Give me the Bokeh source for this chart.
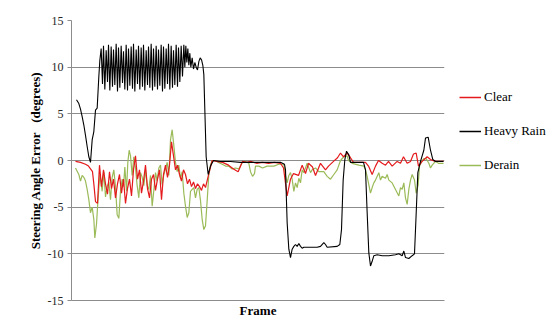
from bokeh.plotting import figure
from bokeh.layouts import row
from bokeh.models import Range1d, FixedTicker, Legend, LegendItem
from bokeh.embed import file_html
from bokeh.resources import INLINE

# ---- data (frame index, steering angle error in degrees) ----
clear_frames = [12, 27, 42, 51, 57, 63, 67, 72, 78, 84, 90, 96, 102, 108, 114, 120, 126, 132, 138, 144,
                150, 156, 162, 168, 174, 180, 186, 192, 198, 204, 210, 216, 222, 228, 234, 240, 246, 252, 258, 264,
                270, 276, 282, 288, 294, 300, 306, 312, 318, 324, 330, 336, 342, 348, 354, 360, 366, 372, 378, 384,
                390, 396, 402, 410, 422, 435, 453, 471, 486, 500, 513, 525, 537, 555, 573, 591, 609, 627, 636, 647,
                657, 666, 681, 692, 702, 711, 723, 732, 747, 762, 771, 786, 798, 807, 816, 827, 837, 846, 867, 882,
                891, 902, 912, 921, 932, 942, 951, 962, 977, 987, 996, 1007, 1017, 1026, 1034, 1041, 1052, 1067, 1077, 1092,
                1116]
clear_vals = [-0.1, -0.2, -0.4, -0.6, -0.9, -1.2, -2.5, -4.4, -4.6, -0.5, -2.8, -1.0, -2.5, -3.6, -1.2, -3.0, -2.0, -4.0, -2.5, -1.5,
              -3.5, -2.0, -4.6, -3.0, -2.0, -3.8, -1.0, 0.5, -2.0, -1.0, -3.5, -2.2, -0.5, -3.0, -4.0, -2.0, -1.5, -3.2, -2.0, -1.0,
              -4.2, -1.5, -0.5, -1.8, -0.5, 2.0, 0.5, -1.0, -0.5, -1.5, -2.2, -1.0, -1.5, -2.5, -2.0, -2.8, -2.3, -3.0, -2.5, -2.8,
              -3.2, -2.5, -2.9, -1.7, 0.0, -0.1, -0.2, -0.5, -0.9, -1.2, -0.1, -0.2, -0.1, -0.3, -0.2, -0.3, -0.2, -0.3, -0.8, -3.8,
              -2.0, -1.4, -1.6, -0.5, -1.4, -0.3, -0.7, -1.6, -0.3, -1.0, -0.6, -0.1, 0.3, 0.8, 0.4, 0.8, 0.3, -0.2, -0.2, -0.2,
              -0.6, -1.5, -0.6, 0.0, -0.3, -0.5, -0.1, -0.6, -0.1, -0.3, 0.4, -0.3, -0.1, 0.7, 0.8, -0.6, -0.1, 0.4, 0.1, -0.1,
              -0.1]

rain_frames = [15, 22, 27, 32, 37, 42, 47, 52, 57, 62, 67, 72, 77, 82, 85,
               89, 93, 96, 100, 104, 108, 111, 115, 119, 123, 126, 130, 134, 138, 141, 145, 149, 153, 156, 160,
               164, 168, 171, 175, 179, 183, 186, 190, 194, 198, 201, 205, 209, 213, 216, 220, 224, 228, 231, 235,
               239, 243, 246, 250, 254, 258, 261, 265, 269, 273, 276, 280, 284, 288, 291, 295, 299, 303, 306, 310,
               314, 318, 321, 325, 329, 333,
               337, 340, 343, 346, 349, 352, 355, 358, 362, 366, 370, 374, 378, 382, 386, 390, 394, 397, 400, 404,
               410, 417, 426, 447, 477, 507, 537, 567, 597, 627, 639, 642, 647, 652, 657, 662, 667, 672, 677, 682,
               687, 692, 697, 707, 737, 747, 757, 762, 767, 797, 805, 810, 815, 820, 825, 832, 837, 852, 876, 882,
               887, 892, 897, 902, 907, 917, 932, 952, 972, 982, 992, 997, 1002, 1012, 1022, 1029, 1034, 1039, 1047, 1057,
               1062, 1070, 1077, 1084, 1092, 1116]
rain_vals = [6.5, 6.1, 5.5, 4.7, 3.8, 2.7, 1.5, 0.4, -0.2, 2.2, 3.1, 5.4, 5.6, 9.0, 10.7,
             12.0, 8.2, 12.3, 7.6, 11.8, 8.4, 12.4, 7.5, 12.2, 7.9, 11.9, 8.1, 12.5, 7.4, 12.1, 7.8, 12.3, 8.3, 11.7, 7.6,
             12.4, 7.5, 12.0, 8.0, 12.2, 7.7, 12.5, 7.4, 11.9, 8.2, 12.3, 7.6, 12.1, 7.9, 12.4, 7.5, 11.8, 8.1, 12.2, 7.8,
             12.5, 7.5, 12.0, 7.9, 12.3, 7.6, 11.9, 8.0, 12.4, 7.4, 12.2, 7.7, 12.0, 8.2, 12.5, 7.6, 12.3, 7.8, 11.8, 8.1,
             12.4, 7.9, 12.1, 8.4, 12.3, 9.0,
             12.4, 10.0, 12.3, 10.5, 12.0, 10.2, 11.5, 10.0, 11.0, 9.8, 10.5, 10.0, 9.7, 10.6, 11.0, 10.8, 10.2, 9.2, 5.4, 0.4,
             -1.5, -0.6, 0.0, -0.1, -0.1, -0.2, -0.2, -0.2, -0.2, -0.2, -0.4, -1.0, -6.7, -9.5, -10.4, -9.5, -9.2, -9.0, -9.2, -8.9,
             -9.2, -9.4, -9.3, -9.3, -9.3, -9.2, -8.8, -9.0, -9.3, -9.2, -9.0, -7.4, -2.1, 0.1, 1.0, 0.6, -0.2, -0.2, -0.2, -1.0,
             -5.6, -9.9, -11.3, -10.8, -10.2, -10.1, -10.2, -10.2, -10.1, -10.0, -10.2, -9.7, -10.4, -10.5, -10.2, -10.0, -5.7, -1.3, -0.1, 1.1,
             2.4, 2.5, 1.1, 0.1, -0.1, -0.1]

derain_frames = [12, 22, 27, 32, 37, 42, 47, 52, 57, 62, 67, 70, 75, 79, 85, 92, 97, 102, 107, 112,
                 117, 122, 127, 132, 137, 142, 147, 152, 156, 160, 165, 169, 173, 177, 182, 187, 192, 197, 202, 207,
                 212, 217, 222, 227, 232, 237, 242, 247, 252, 257, 262, 267, 272, 277, 282, 287, 292, 297, 302, 307,
                 312, 317, 322, 327, 332, 337, 342, 347, 352, 357, 362, 367, 372, 377, 382, 387, 392, 397, 402, 407,
                 412, 417, 422, 432, 441, 452, 462, 471, 482, 492, 502, 512, 522, 532, 537, 543, 549, 552, 562, 573,
                 587, 607, 622, 637, 642, 647, 652, 657, 662, 667, 672, 677, 682, 687, 692, 697, 707, 717, 722, 732,
                 742, 757, 767, 777, 787, 797, 807, 817, 827, 831, 842, 862, 877, 882, 887, 892, 897, 902, 907, 912,
                 922, 927, 932, 942, 947, 952, 962, 972, 982, 987, 992, 997, 1002, 1007, 1012, 1017, 1022, 1029, 1034, 1040,
                 1044, 1050, 1057, 1064, 1072, 1077, 1082, 1092, 1101, 1116]
derain_vals = [-0.8, -1.5, -2.2, -1.6, -1.8, -2.2, -3.1, -4.2, -5.6, -5.0, -6.3, -8.3, -6.8, -4.5, -1.5, -3.3, -1.2, -3.9, -2.8, -2.3,
               -4.2, -1.8, -1.0, -2.8, -5.8, -6.2, -3.3, -2.0, -2.8, -0.7, -3.3, -0.2, 1.1, 0.5, -1.6, 0.4, -0.8, -2.7, -4.0, -1.3,
               -1.8, -2.7, -1.0, -2.7, -3.1, -1.6, -4.9, -3.2, -1.3, -2.2, -0.8, -0.5, -2.6, -1.5, -0.9, -0.2, -1.6, 2.2, 3.3, 1.6,
               -0.2, -1.2, -0.5, -1.9, -1.2, -3.5, -4.9, -6.1, -5.6, -3.3, -3.1, -2.9, -4.0, -3.1, -2.9, -4.3, -6.3, -7.4, -7.0, -4.3,
               -1.5, -0.5, 0.0, 0.0, -0.2, -0.4, -0.6, -0.6, -0.9, -0.8, -0.9, -0.2, -0.1, -0.3, -1.2, -1.7, -1.4, -0.6, -0.6, -0.8,
               -0.6, -0.6, -0.4, -0.4, -1.6, -2.4, -1.6, -1.3, -2.0, -3.3, -2.4, -2.9, -1.9, -2.4, -1.0, -1.3, -0.3, -1.3, -1.0, -0.8,
               -1.2, -1.2, -1.7, -2.0, -1.5, -1.0, 0.0, 0.4, 0.5, 0.0, -0.3, -0.5, -0.6, -1.0, -1.7, -2.6, -3.5, -2.9, -2.4, -2.1,
               -1.3, -2.1, -1.7, -1.9, -1.5, -2.1, -2.4, -3.1, -3.8, -2.9, -3.1, -2.4, -4.0, -4.7, -3.1, -2.1, -1.5, -2.1, -3.5, -2.6,
               -0.6, -0.1, 0.2, 0.2, -0.3, -0.8, -0.5, -0.1, -0.3, -0.3]

y_ticks = [-15, -10, -5, 0, 5, 10, 15]
y_tick_labels = ["-15", "-10", "-5", "0", "5", "10", "15"]
series_names = ["Clear", "Heavy Rain", "Derain"]
series_colors = ["#e41a1c", "#000000", "#9bbb59"]

SERIF = "Liberation Serif"
GRID = "#8c8c8c"

p = figure(width=452, height=320, output_backend="svg", toolbar_location=None,
           x_range=Range1d(0, 1119), y_range=Range1d(-15, 15),
           min_border_left=71, min_border_right=8, min_border_top=20, min_border_bottom=18)
p.outline_line_color = None
p.background_fill_color = "white"
p.border_fill_color = "white"

# x axis: no ticks, bold label
p.xaxis.ticker = FixedTicker(ticks=[])
p.xaxis.major_label_text_font_size = "0px"
p.xaxis.major_tick_out = 0
p.xaxis.major_tick_in = 0
p.xaxis.minor_tick_out = 0
p.xaxis.minor_tick_in = 0
p.xaxis.major_label_standoff = 0
p.xaxis.axis_label = "Frame"
p.xaxis.axis_label_text_font = SERIF
p.xaxis.axis_label_text_font_style = "bold"
p.xaxis.axis_label_text_font_size = "13px"
p.xaxis.axis_label_text_color = "#000000"
p.xaxis.axis_label_standoff = 2
p.xaxis.axis_line_color = GRID

# y axis
p.yaxis.ticker = FixedTicker(ticks=y_ticks)
p.yaxis.major_label_overrides = {t: s for t, s in zip(y_ticks, y_tick_labels)}
p.yaxis.major_label_text_font = SERIF
p.yaxis.major_label_text_font_size = "12px"
p.yaxis.major_label_text_color = "#262626"
p.yaxis.major_tick_out = 4
p.yaxis.major_tick_in = 0
p.yaxis.minor_tick_out = 0
p.yaxis.minor_tick_in = 0
p.yaxis.major_tick_line_color = GRID
p.yaxis.axis_line_color = GRID
p.yaxis.major_label_standoff = 4
p.yaxis.axis_label = "Steering Angle Error\u00a0\u00a0\u00a0(degrees)"
p.yaxis.axis_label_text_font = SERIF
p.yaxis.axis_label_text_font_style = "bold"
p.yaxis.axis_label_text_font_size = "13px"
p.yaxis.axis_label_text_color = "#000000"
p.yaxis.axis_label_standoff = 2

p.xgrid.grid_line_color = None
p.ygrid.grid_line_color = GRID
p.ygrid.grid_line_width = 1

# lines (Derain first, Clear, then Heavy Rain on top)
p.line(derain_frames, derain_vals, line_color=series_colors[2], line_width=1.2)
p.line(clear_frames, clear_vals, line_color=series_colors[0], line_width=1.2)
p.line(rain_frames, rain_vals, line_color=series_colors[1], line_width=1.1)

# legend panel on the right (separate small figure holding only the legend;
# its line renderers sit outside its visible range so only the legend shows them)
lg = figure(width=99, height=320, output_backend="svg", toolbar_location=None,
            x_range=Range1d(0, 1), y_range=Range1d(0, 1), min_border=0)
lg.axis.visible = False
lg.grid.visible = False
lg.outline_line_color = None
lg_renderers = [lg.line([-2, -3], [-2, -3], line_color=c, line_width=1.5) for c in series_colors]
legend = Legend(items=[LegendItem(label=n, renderers=[r]) for n, r in zip(series_names, lg_renderers)],
                location=(7, 125), padding=0, margin=0, spacing=14,
                label_height=20, glyph_height=20, glyph_width=22, label_standoff=3,
                label_text_font=SERIF, label_text_font_size="13px", label_text_color="#000000",
                border_line_color=None, background_fill_alpha=0)
lg.add_layout(legend)

layout = row(p, lg, spacing=0)
open("out.html", "w").write(file_html(layout, INLINE))
